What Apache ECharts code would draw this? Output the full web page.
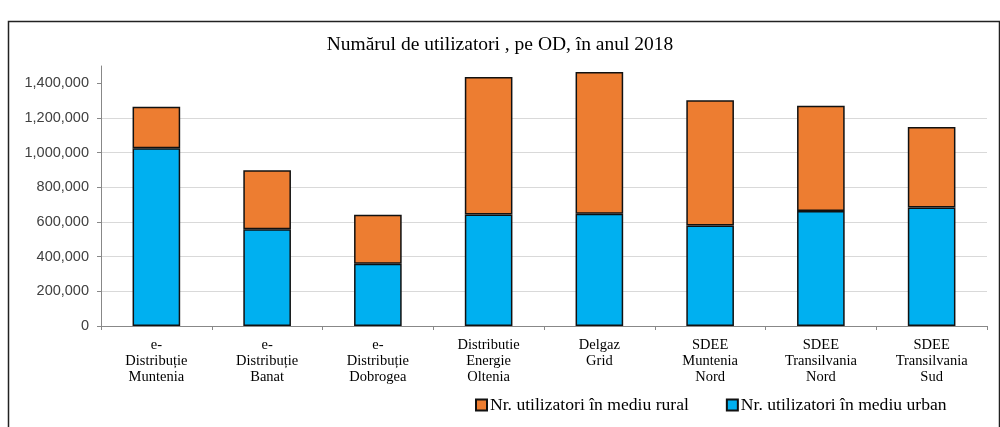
<!DOCTYPE html>
<html>
<head>
<meta charset="utf-8">
<script src="https://cdn.jsdelivr.net/npm/echarts@6/dist/echarts.min.js"></script>
<style>
  html, body { margin: 0; padding: 0; background: #fff; }
  #chart { width: 1000px; height: 427px; }
</style>
</head>
<body>
<div id="chart"></div>
<script>
// operators (axis labels, line breaks as in the source)
const categories = [
  'e-\nDistribuție\nMuntenia',
  'e-\nDistribuție\nBanat',
  'e-\nDistribuție\nDobrogea',
  'Distributie\nEnergie\nOltenia',
  'Delgaz\nGrid',
  'SDEE\nMuntenia\nNord',
  'SDEE\nTransilvania\nNord',
  'SDEE\nTransilvania\nSud'
];
// users
const urban = [1026000, 558000, 359000, 643000, 647000, 580000, 664000, 684000];
const rural = [239000, 341000, 283000, 794000, 818000, 722000, 607000, 464000];
const yTicks = [0, 200000, 400000, 600000, 800000, 1000000, 1200000, 1400000];

const ruralName = 'Nr. utilizatori în mediu rural';
const urbanName = 'Nr. utilizatori în mediu urban';

const serif = '"Liberation Serif", "DejaVu Serif", serif';
const sans = '"Liberation Sans", Arial, sans-serif';

const chart = echarts.init(document.getElementById('chart'));

chart.setOption({
  animation: false,
  backgroundColor: '#fff',
  graphic: [{
    type: 'rect',
    left: 6, top: 19,
    shape: { width: 991, height: 440 },
    style: { fill: 'none', stroke: '#222', lineWidth: 1.5 },
    silent: true
  }],
  title: {
    text: 'Numărul de utilizatori , pe OD, în anul 2018',
    left: 'center',
    top: 30,
    textStyle: { fontFamily: serif, fontSize: 19.5, fontWeight: 'normal', color: '#000' }
  },
  legend: {
    data: [ruralName, urbanName],
    left: 470,
    top: 391,
    itemWidth: 11,
    itemHeight: 11,
    itemGap: 37,
    icon: 'rect',
    textStyle: { fontFamily: serif, fontSize: 17.6, color: '#000', padding: [0, 0, 0, -2] }
  },
  grid: { left: 101, right: 13, top: 66, bottom: 101, containLabel: false },
  xAxis: {
    type: 'category',
    data: categories,
    axisLine: { lineStyle: { color: '#888', width: 1 } },
    axisTick: { show: true, length: 4, lineStyle: { color: '#888' } },
    axisLabel: {
      interval: 0,
      margin: 11,
      fontFamily: serif,
      fontSize: 14.5,
      lineHeight: 16,
      color: '#000',
      align: 'center'
    }
  },
  yAxis: {
    type: 'value',
    min: 0,
    max: 1500000,
    interval: 200000,
    axisLine: { show: true, lineStyle: { color: '#888', width: 1 } },
    axisTick: { show: true, length: 4, lineStyle: { color: '#888' }, customValues: yTicks },
    axisLabel: {
      customValues: yTicks,
      margin: 12,
      fontFamily: sans,
      fontSize: 14.5,
      color: '#404040',
      formatter: v => v.toLocaleString('en-US')
    },
    splitLine: { show: true, showMaxLine: false, lineStyle: { color: '#d9d9d9', width: 1 } }
  },
  series: [
    {
      name: urbanName,
      type: 'bar',
      stack: 'total',
      data: urban,
      barWidth: '43%',
      itemStyle: { color: '#00B0F0', borderColor: '#111', borderWidth: 1.5 }
    },
    {
      name: ruralName,
      type: 'bar',
      stack: 'total',
      data: rural,
      barWidth: '43%',
      itemStyle: { color: '#ED7D31', borderColor: '#111', borderWidth: 1.5 }
    }
  ]
});
</script>
</body>
</html>
